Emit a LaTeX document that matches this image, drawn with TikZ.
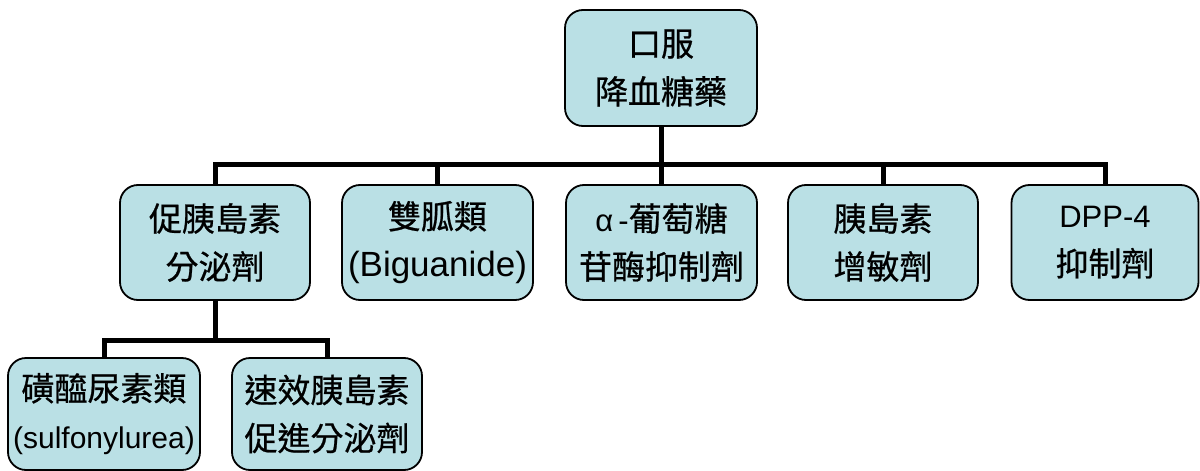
\documentclass[tikz,border=0pt]{standalone}
\usepackage{fontspec}
\setmainfont{Liberation Sans}
\newfontfamily\cjk[FakeBold=0.7]{Noto Sans CJK TC}
\newcommand{\C}[1]{{\cjk #1}}
\definecolor{boxfill}{RGB}{186,224,229}
\begin{document}
\begin{tikzpicture}[x=1pt,y=-1pt,
  box/.style={draw=black, line width=1.8pt, fill=boxfill, rounded corners=18pt,
    inner sep=0pt, align=center, font=\fontsize{33}{48}\selectfont},
  conn/.style={draw=black, line width=5pt},
  bar/.style={draw=black, line width=5pt, line cap=rect}]
\useasboundingbox (0,0) rectangle (1200,471);
% root
\node[box, minimum width=192pt, minimum height=116pt] (root) at (661,68) {\C{口服}\\\C{降血糖藥}};
% level 2
\node[box, minimum width=190pt, minimum height=115pt] (b1) at (215,242.5) {\C{促胰島素}\\\C{分泌劑}};
\node[box, minimum width=191pt, minimum height=115pt] (b2) at (437.5,242.5) {\C{雙胍類}\\{\fontsize{35}{48}\selectfont (Biguanide)}};
\node[box, minimum width=191pt, minimum height=115pt] (b3) at (661.5,242.5) {{\fontsize{31}{48}\selectfont α\,-}\C{葡萄糖}\\\C{苷酶抑制劑}};
\node[box, minimum width=190pt, minimum height=115pt] (b4) at (883,242.5) {\C{胰島素}\\\C{增敏劑}};
\node[box, minimum width=187pt, minimum height=115pt] (b5) at (1105,242.5) {{\fontsize{31}{48}\selectfont DPP-4}\\\C{抑制劑}};
% level 3
\node[box, minimum width=192pt, minimum height=112pt] (b6) at (104,414) {\C{磺醯尿素類}\\{\fontsize{30}{48}\selectfont (sulfonylurea)}};
\node[box, minimum width=190pt, minimum height=112pt] (b7) at (327,414) {\C{速效胰島素}\\\C{促進分泌劑}};
% connectors
\coordinate (bus) at (0,164);
\coordinate (bus2) at (0,340);
\draw[conn] (root.south) -- (root.south |- bus);
\draw[bar] (b1.north |- bus) -- (b5.north |- bus);
\foreach \n in {b1,b2,b3,b4,b5} \draw[conn] (\n.north) -- (\n.north |- bus);
\draw[conn] (b1.south) -- (b1.south |- bus2);
\draw[bar] (b6.north |- bus2) -- (b7.north |- bus2);
\foreach \n in {b6,b7} \draw[conn] (\n.north) -- (\n.north |- bus2);
\end{tikzpicture}
\end{document}
